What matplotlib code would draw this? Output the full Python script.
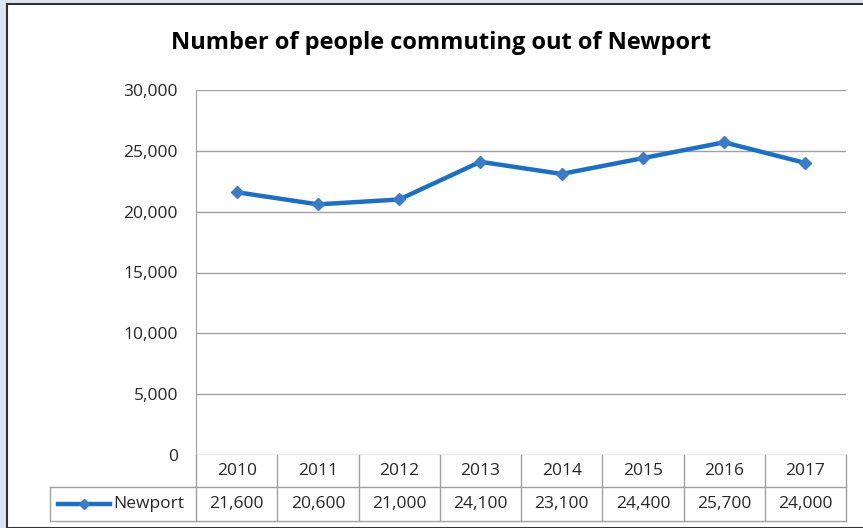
import matplotlib.pyplot as plt
from matplotlib.patches import Rectangle
from matplotlib.lines import Line2D

years = ['2010', '2011', '2012', '2013', '2014', '2015', '2016', '2017']
commuters = [21600, 20600, 21000, 24100, 23100, 24400, 25700, 24000]
series_name = 'Newport'
title = 'Number of people commuting out of Newport'

W, H = 863, 528
line_col = '#1f6fc0'
marker_col = '#3b7cc6'
grid_col = '#a0a0a0'
txt_col = '#262626'
font = ['Open Sans', 'DejaVu Sans']
fs = 12.5

plt.rcParams['font.family'] = font

fig = plt.figure(figsize=(W / 100, H / 100), dpi=100, facecolor='#dce6f2')

# white chart area with dark frame on top/left
fig.patches.append(Rectangle((7 / W, 0), (W - 7) / W + 0.01, (H - 4) / H,
                             transform=fig.transFigure, facecolor='white',
                             edgecolor='#333333', linewidth=1.5, zorder=-5))

left, right, top, bottom = 196, 846, 90, 455
ax = fig.add_axes([left / W, (H - bottom) / H, (right - left) / W, (bottom - top) / H])
ax.set_facecolor('none')

x = [i + 0.5 for i in range(len(years))]
ax.plot(x, commuters, color=line_col, linewidth=3.2, marker='D', markersize=6,
        markerfacecolor=marker_col, markeredgecolor=marker_col, zorder=3)

ax.set_xlim(0, len(years))
ax.set_ylim(0, 30000)
ax.set_yticks(range(0, 30001, 5000))
ax.set_yticklabels([f'{v:,}' for v in range(0, 30001, 5000)], fontsize=fs, color=txt_col)
ax.set_xticks([])
ax.tick_params(axis='y', length=0, pad=13)
ax.grid(axis='y', color=grid_col, linewidth=1)
ax.set_axisbelow(True)
for s in ['top', 'right', 'bottom']:
    ax.spines[s].set_visible(False)
ax.spines['left'].set_color(grid_col)

# data table under the axis
ph = bottom - top
r1 = -32 / ph
r2 = -66 / ph
unit = (right - left) / len(years)
lx = (50 - left) / unit
tr = ax.get_xaxis_transform()
kw = dict(color=grid_col, linewidth=1, transform=tr, clip_on=False)
for i in range(len(years) + 1):
    ax.add_line(Line2D([i, i], [0, r2], **kw))
ax.add_line(Line2D([lx, len(years)], [r1, r1], **kw))
ax.add_line(Line2D([lx, len(years)], [r2, r2], **kw))
ax.add_line(Line2D([lx, lx], [r1, r2], **kw))

for xi, yr, v in zip(x, years, commuters):
    ax.text(xi, r1 / 2, yr, transform=tr, ha='center', va='center', fontsize=fs, color=txt_col)
    ax.text(xi, (r1 + r2) / 2, f'{v:,}', transform=tr, ha='center', va='center',
            fontsize=fs, color=txt_col)

l0, l1 = (58 - left) / unit, (110 - left) / unit
ax.add_line(Line2D([l0, l1], [(r1 + r2) / 2] * 2, color=line_col, linewidth=3.2,
                   transform=tr, clip_on=False))
ax.add_line(Line2D([(l0 + l1) / 2], [(r1 + r2) / 2], marker='D', markersize=5,
                   color=marker_col, transform=tr, clip_on=False))
ax.text((113 - left) / unit, (r1 + r2) / 2, series_name, transform=tr, ha='left',
        va='center', fontsize=fs, color=txt_col)

fig.text(441 / W, 1 - 43 / H, title, ha='center', va='center', fontsize=17,
         fontweight='bold', color='black')

fig.savefig('out.png', dpi=100, facecolor=fig.get_facecolor())
